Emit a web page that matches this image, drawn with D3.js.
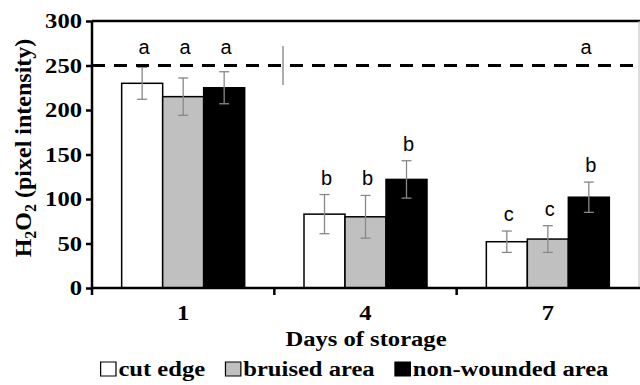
<!DOCTYPE html>
<html>
<head>
<meta charset="utf-8">
<script src="https://cdn.jsdelivr.net/npm/d3@7"></script>
<style>
  body { margin: 0; background: #fff; }
  svg { display: block; }
  .serif { font-family: "Liberation Serif", "Times New Roman", serif; font-weight: bold; fill: #000; }
  .letter { font-family: "Liberation Sans", Arial, sans-serif; fill: #000; }
</style>
</head>
<body>
<svg id="chart" width="640" height="385"></svg>
<script>
// days of storage and series
const days = ["1", "4", "7"];
const seriesNames = ["cut edge", "bruised area", "non-wounded area"];
const cutEdge = [230, 83, 52];
const bruised = [215, 80, 55];
const nonWounded = [225, 122, 102];
const cutEdgeErr = [18, 22, 12];
const bruisedErr = [21, 24, 15];
const nonWoundedErr = [18, 21, 17];
const cutEdgeLetters = ["a", "b", "c"];
const bruisedLetters = ["a", "b", "c"];
const nonWoundedLetters = ["a", "b", "b"];
const yTicks = [0, 50, 100, 150, 200, 250, 300];
// reference (dashed) level and its spread
const refLevel = 250;
const refErr = 22;
const refLetter = "a";

const fills = ["#ffffff", "#c0c0c0", "#000000"];
const values = [cutEdge, bruised, nonWounded];
const errs = [cutEdgeErr, bruisedErr, nonWoundedErr];
const letters = [cutEdgeLetters, bruisedLetters, nonWoundedLetters];

const svg = d3.select("#chart");
const mLeft = 92, mRight = 639, mTop = 21, mBottom = 288;
const sx = 1.23; // glyphs in the figure are wide

const x = d3.scaleBand().domain(days).range([mLeft, mRight]);
const xs = d3.scaleBand().domain(d3.range(3)).range([0, 123]);
const y = d3.scaleLinear().domain([0, 300]).range([mBottom, mTop]);

// frame
svg.append("line").attr("x1", mLeft).attr("x2", 640).attr("y1", mTop).attr("y2", mTop)
    .attr("stroke", "#000").attr("stroke-width", 2.5);
svg.append("line").attr("x1", mRight).attr("x2", mRight).attr("y1", mTop).attr("y2", mBottom)
    .attr("stroke", "#bbb").attr("stroke-width", 1);

// bars
days.forEach((d, i) => {
    const gx = x(d) + (x.bandwidth() - 123) / 2;
    for (let s = 0; s < 3; s++) {
        const bx = gx + xs(s);
        const v = values[s][i];
        svg.append("rect")
            .attr("x", bx).attr("y", y(v))
            .attr("width", xs.bandwidth()).attr("height", y(0) - y(v))
            .attr("fill", fills[s]).attr("stroke", "#000").attr("stroke-width", 1.5);
        const cx = bx + xs.bandwidth() / 2;
        const e = errs[s][i];
        const eg = svg.append("g").attr("stroke", "#888").attr("stroke-width", 1.3);
        eg.append("line").attr("x1", cx).attr("x2", cx).attr("y1", y(v + e)).attr("y2", y(v - e));
        eg.append("line").attr("x1", cx - 5).attr("x2", cx + 5).attr("y1", y(v + e)).attr("y2", y(v + e));
        eg.append("line").attr("x1", cx - 5).attr("x2", cx + 5).attr("y1", y(v - e)).attr("y2", y(v - e));
        svg.append("text").attr("class", "letter")
            .attr("x", cx + 2).attr("y", i === 0 ? 54 : y(v + e) - 10)
            .attr("text-anchor", "middle").attr("font-size", 20)
            .text(letters[s][i]);
    }
});

// dashed reference line
svg.append("line").attr("x1", mLeft).attr("x2", 640).attr("y1", y(refLevel)).attr("y2", y(refLevel))
    .attr("stroke", "#000").attr("stroke-width", 3).attr("stroke-dasharray", "13,9");
svg.append("line").attr("x1", 283).attr("x2", 283)
    .attr("y1", y(refLevel + refErr)).attr("y2", y(refLevel - refErr))
    .attr("stroke", "#777").attr("stroke-width", 1.2);
svg.append("text").attr("class", "letter")
    .attr("x", 586).attr("y", 54).attr("text-anchor", "middle").attr("font-size", 20)
    .text(refLetter);

// y axis
const yAxis = svg.append("g").attr("transform", `translate(${mLeft},0)`)
    .call(d3.axisLeft(y).tickValues(yTicks).tickSize(6).tickFormat(""));
yAxis.select(".domain").attr("stroke-width", 2.5).attr("d", `M0,${mTop}V${mBottom}`);
yAxis.selectAll(".tick line").attr("stroke-width", 2.5);
yTicks.forEach(t => {
    svg.append("text").attr("class", "serif")
        .attr("transform", `translate(82,${y(t) + 7}) scale(${sx},1)`)
        .attr("text-anchor", "end").attr("font-size", 20).text(t);
});

// x axis
const xAxis = svg.append("g").attr("transform", `translate(0,${mBottom})`)
    .call(d3.axisBottom(x).tickSize(0).tickFormat(""));
xAxis.select(".domain").attr("stroke-width", 2.5).attr("d", `M${mLeft},0H640`);
[mLeft, x("4"), x("7")].forEach(t => {
    svg.append("line").attr("x1", t).attr("x2", t).attr("y1", mBottom).attr("y2", mBottom + 7)
        .attr("stroke", "#000").attr("stroke-width", 2.5);
});
days.forEach(d => {
    svg.append("text").attr("class", "serif")
        .attr("transform", `translate(${x(d) + x.bandwidth() / 2},320) scale(${sx},1)`)
        .attr("text-anchor", "middle").attr("font-size", 20).text(d);
});

svg.append("text").attr("class", "serif")
    .attr("transform", `translate(366,346) scale(${sx},1)`)
    .attr("text-anchor", "middle").attr("font-size", 20).text("Days of storage");

// y title
const yt = svg.append("text").attr("class", "serif")
    .attr("transform", `translate(31,148) rotate(-90)`)
    .attr("text-anchor", "middle").attr("font-size", 24);
yt.append("tspan").text("H");
yt.append("tspan").attr("font-size", 16).attr("dy", 5).text("2");
yt.append("tspan").attr("dy", -5).text("O");
yt.append("tspan").attr("font-size", 16).attr("dy", 5).text("2");
yt.append("tspan").attr("dy", -5).text(" (pixel intensity)");

// legend
const legend = svg.append("g").attr("transform", `translate(100,376) scale(${sx},1)`);
let lx = 0;
seriesNames.forEach((n, i) => {
    legend.append("rect").attr("x", lx + 0.5).attr("y", -14).attr("width", 12.5).attr("height", 14)
        .attr("fill", fills[i]).attr("stroke", "#000").attr("stroke-width", 1);
    const t = legend.append("text").attr("class", "serif").attr("x", lx + 15).attr("y", 0)
        .attr("font-size", 20).text(n);
    lx += 15 + t.node().getComputedTextLength() + 16;
});
</script>
</body>
</html>
